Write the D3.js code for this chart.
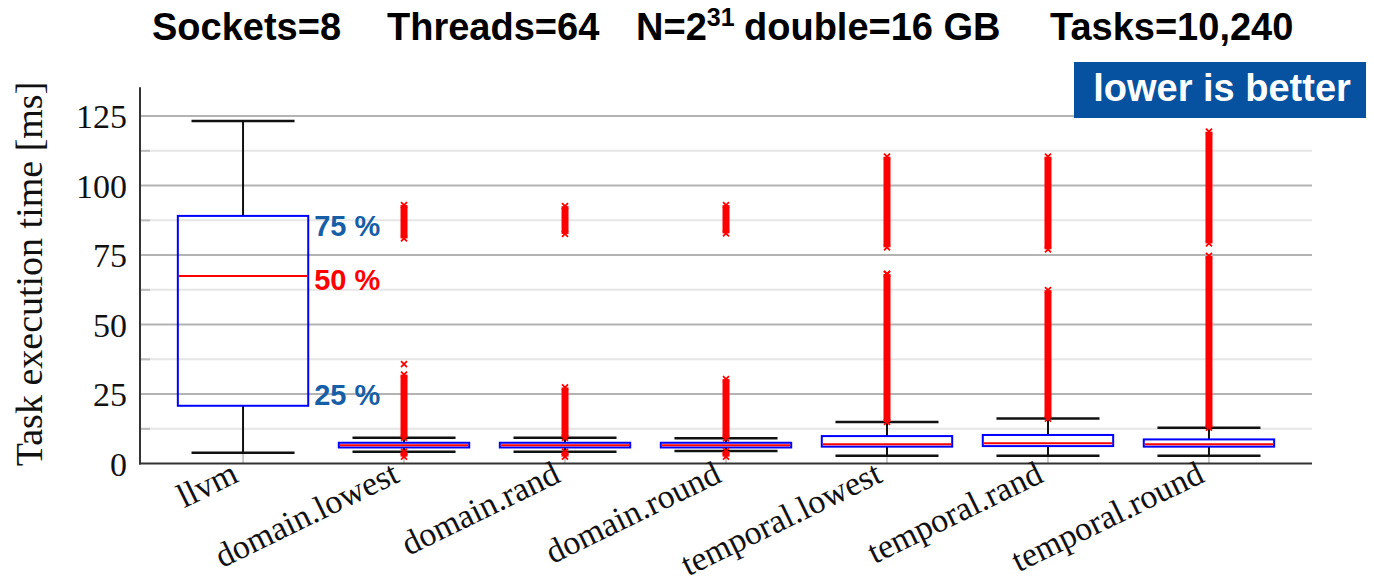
<!DOCTYPE html>
<html><head><meta charset="utf-8">
<script src="https://cdn.jsdelivr.net/npm/d3@7"></script>
<style>body{margin:0;background:#fff}svg{display:block}</style>
</head><body>
<svg id="chart" width="1374" height="586"></svg>
<script>
// ---- data ----
const categories = ["llvm","domain.lowest","domain.rand","domain.round","temporal.lowest","temporal.rand","temporal.round"];
const whiskerLow  = [3.9, 4.3, 4.3, 4.5, 2.85, 2.85, 2.85];
const q1          = [20.8, 5.8, 5.8, 5.8, 6.1, 6.3, 6.1];
const median      = [67.5, 6.6, 6.6, 6.6, 7.0, 7.3, 7.0];
const q3          = [89.1, 7.5, 7.5, 7.5, 9.9, 10.3, 8.7];
const whiskerHigh = [123.2, 9.3, 9.3, 9.1, 15.0, 16.2, 12.9];
// dense outlier clusters [category, low, high]
const outlierClusters = [
  ["domain.lowest", 2.5, 4.3], ["domain.lowest", 9.3, 32.0], ["domain.lowest", 81.0, 93.0],
  ["domain.rand", 2.5, 4.3], ["domain.rand", 9.3, 27.4], ["domain.rand", 82.6, 92.6],
  ["domain.round", 2.5, 4.5], ["domain.round", 9.1, 30.4], ["domain.round", 82.8, 93.0],
  ["temporal.lowest", 15.0, 68.2], ["temporal.lowest", 77.8, 110.4],
  ["temporal.rand", 16.2, 62.4], ["temporal.rand", 77.1, 110.4],
  ["temporal.round", 12.9, 74.7], ["temporal.round", 79.2, 119.4]
];
// isolated outliers [category, value]
const outlierPoints = [["domain.lowest", 35.8], ["temporal.lowest", 68.2]];
const yTicks = [0, 25, 50, 75, 100, 125];
const yMinorTicks = [12.5, 37.5, 62.5, 87.5, 112.5];
const quartileLabels = [["75 %", 89.1, "#165ea6"], ["50 %", 67.5, "#ff0000"], ["25 %", 20.8, "#165ea6"]];

// ---- layout ----
const svg = d3.select("#chart");
const pLeft = 140, pRight = 1312, pTop = 88.3, pBottom = 463.6;
const x = d3.scalePoint().domain(categories).range([pLeft, pRight]).padding(0.64);
const y = d3.scaleLinear().domain([0, 135]).range([pBottom, pTop]);
const step = x.step();
const boxW = step * 0.81, capW = step * 0.64;

// grid
svg.append("g").selectAll("line").data(yMinorTicks).join("line")
  .attr("x1", pLeft).attr("x2", pRight).attr("y1", d => y(d)).attr("y2", d => y(d))
  .attr("stroke", "#e6e6e6").attr("stroke-width", 2);
svg.append("g").selectAll("line").data(yTicks.filter(d => d > 0)).join("line")
  .attr("x1", pLeft).attr("x2", pRight).attr("y1", d => y(d)).attr("y2", d => y(d))
  .attr("stroke", "#b3b3b3").attr("stroke-width", 2);
svg.append("g").selectAll("line").data(yMinorTicks).join("line")
  .attr("x1", pLeft).attr("x2", pLeft + 10).attr("y1", d => y(d)).attr("y2", d => y(d))
  .attr("stroke", "#bdbdbd").attr("stroke-width", 2);

// x ticks
svg.append("g").selectAll("line").data(categories).join("line")
  .attr("x1", d => x(d)).attr("x2", d => x(d)).attr("y1", pBottom - 10).attr("y2", pBottom)
  .attr("stroke", "#999").attr("stroke-width", 1);

// axes lines
svg.append("line").attr("x1", pLeft).attr("x2", pLeft).attr("y1", pTop - 1).attr("y2", pBottom + 1)
  .attr("stroke", "#333").attr("stroke-width", 2);
svg.append("line").attr("x1", pLeft - 1).attr("x2", pRight).attr("y1", pBottom).attr("y2", pBottom)
  .attr("stroke", "#333").attr("stroke-width", 2);

// y tick labels
svg.append("g").selectAll("text").data(yTicks).join("text")
  .attr("x", 127).attr("y", d => y(d)).attr("dy", "0.36em")
  .attr("text-anchor", "end").attr("font-family", "Liberation Serif, serif")
  .attr("font-size", 34).attr("fill", "#111").text(d => d);

// y label
svg.append("text").attr("transform", "translate(42,274) rotate(-90)")
  .attr("text-anchor", "middle").attr("font-family", "Liberation Serif, serif")
  .attr("font-size", 38).attr("fill", "#111").text("Task execution time [ms]");

// x labels
svg.append("g").selectAll("text").data(categories).join("text")
  .attr("transform", d => `translate(${x(d) - 3},481) rotate(-26)`)
  .attr("text-anchor", "end").attr("font-family", "Liberation Serif, serif")
  .attr("font-size", 34).attr("fill", "#111").text(d => d);

// whiskers
const stats = categories.map((c, i) => ({c, lo: whiskerLow[i], q1: q1[i], med: median[i], q3: q3[i], hi: whiskerHigh[i]}));
const g = svg.append("g");
g.selectAll(".wl").data(stats).join("line").attr("class", "wl")
  .attr("x1", d => x(d.c)).attr("x2", d => x(d.c)).attr("y1", d => y(d.lo)).attr("y2", d => y(d.q1))
  .attr("stroke", "#111").attr("stroke-width", 2);
g.selectAll(".wh").data(stats).join("line").attr("class", "wh")
  .attr("x1", d => x(d.c)).attr("x2", d => x(d.c)).attr("y1", d => y(d.q3)).attr("y2", d => y(d.hi))
  .attr("stroke", "#111").attr("stroke-width", 2);
g.selectAll(".cl").data(stats).join("line").attr("class", "cl")
  .attr("x1", d => x(d.c) - capW / 2).attr("x2", d => x(d.c) + capW / 2)
  .attr("y1", d => y(d.lo)).attr("y2", d => y(d.lo)).attr("stroke", "#111").attr("stroke-width", 2.5);
g.selectAll(".ch").data(stats).join("line").attr("class", "ch")
  .attr("x1", d => x(d.c) - capW / 2).attr("x2", d => x(d.c) + capW / 2)
  .attr("y1", d => y(d.hi)).attr("y2", d => y(d.hi)).attr("stroke", "#111").attr("stroke-width", 2.5);

// outlier clusters
const og = svg.append("g");
og.selectAll("line").data(outlierClusters).join("line")
  .attr("x1", d => x(d[0])).attr("x2", d => x(d[0]))
  .attr("y1", d => y(d[1])).attr("y2", d => y(d[2]))
  .attr("stroke", "#ff0000").attr("stroke-width", 7);
const xMark = "M-3,-3L3,3M-3,3L3,-3";
og.selectAll("path.end").data(outlierClusters.flatMap(d => [[d[0], d[1]], [d[0], d[2]]]).concat(outlierPoints))
  .join("path").attr("class", "end")
  .attr("transform", d => `translate(${x(d[0])},${y(d[1])})`)
  .attr("d", xMark).attr("stroke", "#ff0000").attr("stroke-width", 1.8).attr("fill", "none");

// boxes
g.selectAll("rect.box").data(stats).join("rect").attr("class", "box")
  .attr("x", d => x(d.c) - boxW / 2).attr("width", boxW)
  .attr("y", d => y(d.q3)).attr("height", d => y(d.q1) - y(d.q3))
  .attr("fill", d => d.c === "llvm" ? "none" : "#fff")
  .attr("stroke", "#0000ff").attr("stroke-width", 2);
g.selectAll("line.med").data(stats).join("line").attr("class", "med")
  .attr("x1", d => x(d.c) - boxW / 2 + 1).attr("x2", d => x(d.c) + boxW / 2 - 1)
  .attr("y1", d => y(d.med)).attr("y2", d => y(d.med))
  .attr("stroke", "#ff0000").attr("stroke-width", 2);

// quartile labels
svg.append("g").selectAll("text").data(quartileLabels).join("text")
  .attr("x", x("llvm") + boxW / 2 + 6).attr("y", d => y(d[1]))
  .attr("dy", (d, i) => i === 0 ? 20 : (i === 1 ? 14 : -1))
  .attr("font-family", "Liberation Sans, Arial, sans-serif").attr("font-weight", "bold")
  .attr("font-size", 29).attr("fill", d => d[2]).text(d => d[0]);

// title
const title = svg.append("text").attr("y", 40)
  .attr("font-family", "Liberation Sans, Arial, sans-serif").attr("font-weight", "bold")
  .attr("font-size", 38).attr("fill", "#000");
title.append("tspan").attr("x", 152).text("Sockets=8");
title.append("tspan").attr("x", 387).text("Threads=64");
title.append("tspan").attr("x", 636).text("N=2");
title.append("tspan").attr("dy", -14).attr("font-size", 25).text("31");
title.append("tspan").attr("dy", 14).attr("x", 744).text("double=16 GB");
title.append("tspan").attr("x", 1050).text("Tasks=10,240");

// lower is better
svg.append("rect").attr("x", 1074).attr("y", 62).attr("width", 292).attr("height", 56).attr("fill", "#0652a0");
svg.append("text").attr("x", 1222).attr("y", 101).attr("text-anchor", "middle")
  .attr("font-family", "Liberation Sans, Arial, sans-serif").attr("font-weight", "bold")
  .attr("font-size", 38).attr("fill", "#fff").text("lower is better");
</script>
</body></html>
